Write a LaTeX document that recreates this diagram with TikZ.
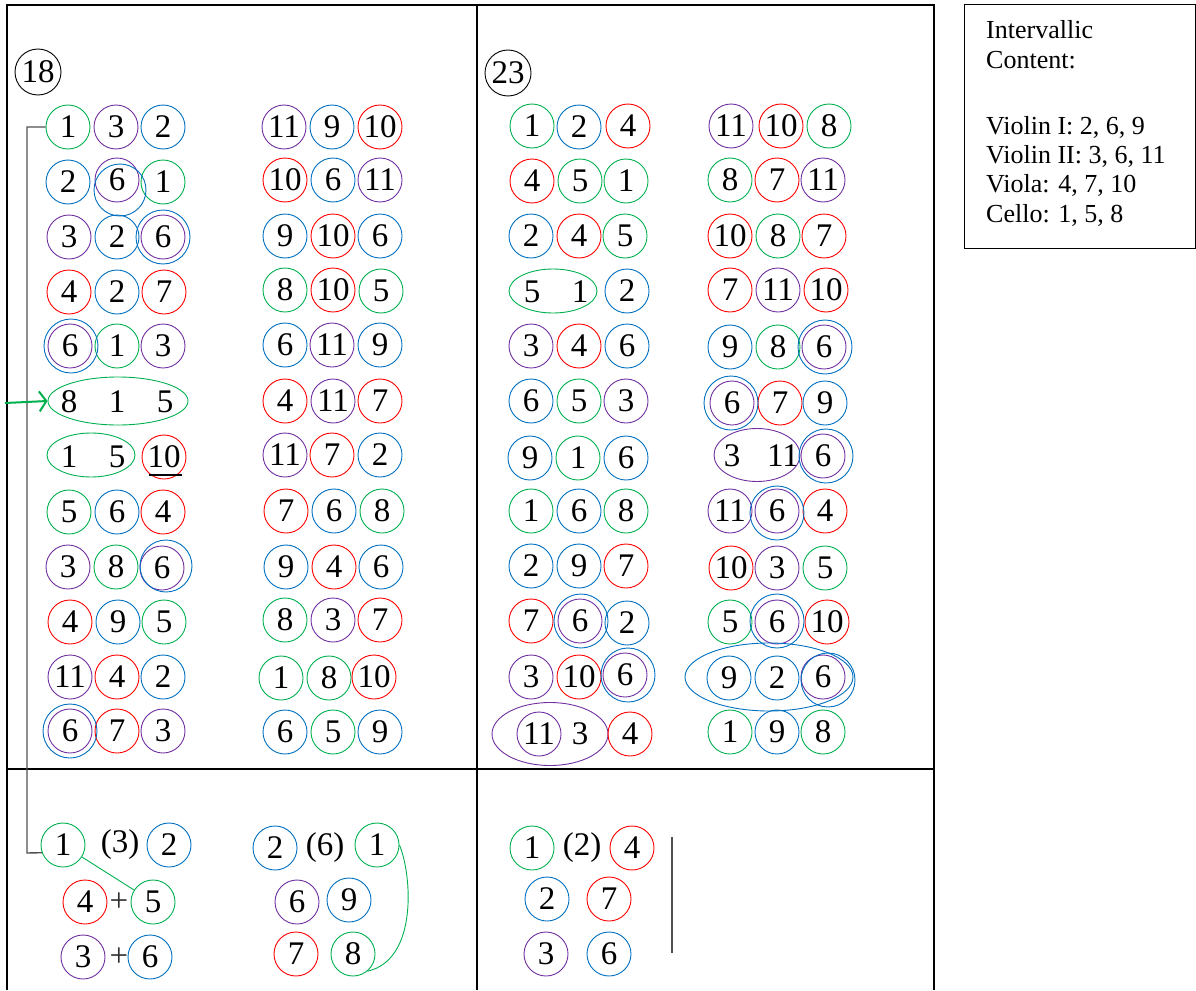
\documentclass[tikz,border=0pt]{standalone}
\usepackage{fontspec}
\setmainfont{Liberation Serif}
\usetikzlibrary{shapes.geometric,arrows.meta}
\definecolor{cgreen}{HTML}{00B050}
\definecolor{cpurple}{HTML}{7030A0}
\definecolor{cblue}{HTML}{0070C0}
\definecolor{cred}{HTML}{FF0000}
\definecolor{lgray}{HTML}{505050}
\definecolor{dgray}{HTML}{303030}
\newcommand\Cn[5]{\node[#1] (#2) at (#3,#4) {#5};}
\begin{document}
\begin{tikzpicture}[x=1pt,y=-1pt,
  base/.style={circle,minimum size=44pt,inner sep=0pt,line width=0.9pt,font=\fontsize{33}{36}\selectfont},
  G/.style={base,draw=cgreen},
  P/.style={base,draw=cpurple},
  B/.style={base,draw=cblue},
  R/.style={base,draw=cred},
  K/.style={base,draw=black},
  D/.style={base},
  outer/.style={circle,draw=cblue,line width=0.9pt,inner sep=0pt,minimum size=#1},
  outer/.default=54pt,
  ov/.style={ellipse,inner sep=0pt,line width=0.9pt},
  frame/.style={line width=1.6pt},
  linegray/.style={draw=lgray,line width=1.4pt},
  leg/.style={anchor=base west,inner sep=0pt,font=\fontsize{26}{29.5}\selectfont},
]
\useasboundingbox (0,0) rectangle (1196,990);
% frame
\draw[frame] (7,990) -- (7,5) -- (934,5) -- (934,990);
\draw[frame] (477,5) -- (477,990);
\draw[frame] (7,769) -- (934,769);
% legend
\node[draw,line width=1.3pt,minimum width=231pt,minimum height=244pt,anchor=north west,inner sep=0pt] (legend) at (964,4) {};
\node[leg] (lg1) at (986,38.5) {Intervallic};
\node[leg] (lg2) at (986,69) {Content:};
\node[leg] (lg3) at (986,134) {Violin I: 2, 6, 9};
\node[leg] (lg4) at (986,163) {Violin II: 3, 6, 11};
\node[leg] (lg5) at (986,192.5) {Viola: 4, 7, 10};
\node[leg] (lg6) at (986,222) {Cello: 1, 5, 8};
\begin{scope}[yshift=-3pt]
% labels
\Cn{K,minimum size=46pt}{L18}{38}{69}{18}
\Cn{K,minimum size=46pt}{L23}{508}{70}{23}
% ===== group A =====
\Cn{G}{A1a}{68}{124}{1} \Cn{P}{A1b}{116}{124}{3} \Cn{B}{A1c}{163}{124}{2}
\Cn{B}{A2a}{68}{179}{2} \Cn{P}{A2b}{117}{177}{6} \Cn{G}{A2c}{163}{179}{1}
\node[outer=52pt] (A2bo) at (120,187) {};
\Cn{P}{A3a}{69}{234}{3} \Cn{B}{A3b}{117}{234}{2} \Cn{P}{A3c}{163}{234}{6}
\node[outer] (A3co) at (163,234) {};
\Cn{R}{A4a}{69}{289}{4} \Cn{B}{A4b}{117}{289}{2} \Cn{R}{A4c}{164}{289}{7}
\Cn{P}{A5a}{70}{343}{6} \Cn{G}{A5b}{117}{343}{1} \Cn{P}{A5c}{163}{343}{3}
\node[outer] (A5ao) at (71,343) {};
\Cn{D}{A6a}{69}{399}{8} \Cn{D}{A6b}{117}{399}{1} \Cn{D}{A6c}{165}{399}{5}
\node[ov,draw=cgreen,minimum width=140pt,minimum height=48pt] (e6) at (118,398) {};
\Cn{D}{A7a}{69}{454}{1} \Cn{D}{A7b}{117}{454}{5}
\node[ov,draw=cgreen,minimum width=88pt,minimum height=44pt] (e7) at (91,452) {};
\Cn{R}{A7c}{164}{454}{10}
\draw[line width=1.2pt] ([shift={(-15,18)}]A7c.center) -- ([shift={(18,18)}]A7c.center);
\Cn{G}{A8a}{69}{509}{5} \Cn{B}{A8b}{117}{509}{6} \Cn{R}{A8c}{163}{509}{4}
\Cn{P}{A9a}{68}{564}{3} \Cn{G}{A9b}{116}{564}{8} \Cn{P}{A9c}{162}{565}{6}
\node[outer=52pt] (A9co) at (166,563) {};
\Cn{R}{A10a}{70}{619}{4} \Cn{B}{A10b}{118}{619}{9} \Cn{G}{A10c}{164}{619}{5}
\Cn{P}{A11a}{70}{674}{11} \Cn{R}{A11b}{117}{674}{4} \Cn{B}{A11c}{163}{674}{2}
\Cn{P}{A12a}{70}{728}{6} \Cn{R}{A12b}{117}{728}{7} \Cn{P}{A12c}{163}{728}{3}
\node[outer] (A12ao) at (70,728) {};
% ===== group B =====
\Cn{P}{B1a}{284}{124}{11} \Cn{B}{B1b}{332}{124}{9} \Cn{R}{B1c}{380}{124}{10}
\Cn{R}{B2a}{285}{177}{10} \Cn{B}{B2b}{333}{177}{6} \Cn{P}{B2c}{380}{177}{11}
\Cn{B}{B3a}{285}{233}{9} \Cn{R}{B3b}{333}{233}{10} \Cn{B}{B3c}{380}{233}{6}
\Cn{G}{B4a}{285}{287}{8} \Cn{R}{B4b}{333}{287}{10} \Cn{G}{B4c}{381}{288}{5}
\Cn{B}{B5a}{285}{342}{6} \Cn{P}{B5b}{332}{342}{11} \Cn{B}{B5c}{380}{342}{9}
\Cn{R}{B6a}{285}{398}{4} \Cn{P}{B6b}{333}{398}{11} \Cn{R}{B6c}{380}{398}{7}
\Cn{P}{B7a}{285}{452}{11} \Cn{R}{B7b}{332}{452}{7} \Cn{B}{B7c}{380}{452}{2}
\Cn{R}{B8a}{286}{508}{7} \Cn{B}{B8b}{334}{508}{6} \Cn{G}{B8c}{382}{508}{8}
\Cn{B}{B9a}{286}{564}{9} \Cn{R}{B9b}{334}{564}{4} \Cn{B}{B9c}{381}{564}{6}
\Cn{G}{B10a}{285}{617}{8} \Cn{P}{B10b}{333}{617}{3} \Cn{R}{B10c}{380}{617}{7}
\Cn{G}{B11a}{281}{675}{1} \Cn{G}{B11b}{329}{675}{8} \Cn{R}{B11c}{374}{674}{10}
\Cn{B}{B12a}{285}{729}{6} \Cn{G}{B12b}{333}{729}{5} \Cn{B}{B12c}{380}{729}{9}
% ===== group C =====
\Cn{G}{C1a}{532}{123}{1} \Cn{B}{C1b}{579}{124}{2} \Cn{R}{C1c}{628}{123}{4}
\Cn{R}{C2a}{532}{178}{4} \Cn{G}{C2b}{580}{178}{5} \Cn{G}{C2c}{626}{178}{1}
\Cn{B}{C3a}{531}{233}{2} \Cn{R}{C3b}{579}{233}{4} \Cn{G}{C3c}{625}{233}{5}
\Cn{D}{C4a}{532}{289}{5} \Cn{D}{C4b}{580}{289}{1}
\node[ov,draw=cgreen,minimum width=88pt,minimum height=44pt] (e4) at (553,288) {};
\Cn{B}{C4c}{627}{288}{2}
\Cn{P}{C5a}{531}{343}{3} \Cn{R}{C5b}{579}{343}{4} \Cn{B}{C5c}{627}{343}{6}
\Cn{B}{C6a}{531}{398}{6} \Cn{G}{C6b}{579}{398}{5} \Cn{P}{C6c}{626}{398}{3}
\Cn{B}{C7a}{530}{455}{9} \Cn{G}{C7b}{578}{455}{1} \Cn{B}{C7c}{626}{455}{6}
\Cn{G}{C8a}{531}{508}{1} \Cn{B}{C8b}{579}{508}{6} \Cn{G}{C8c}{626}{508}{8}
\Cn{B}{C9a}{531}{563}{2} \Cn{B}{C9b}{579}{563}{9} \Cn{R}{C9c}{626}{563}{7}
\Cn{R}{C10a}{531}{618}{7} \Cn{P}{C10b}{580}{618}{6} \Cn{B}{C10c}{627}{620}{2}
\node[outer] (C10bo) at (581,618) {};
\Cn{P}{C11a}{531}{674}{3} \Cn{R}{C11b}{579}{674}{10} \Cn{P}{C11c}{625}{672}{6}
\node[outer] (C11co) at (628,672) {};
\Cn{P}{C12a}{539}{731}{11} \Cn{D}{C12b}{580}{731}{3}
\node[ov,draw=cpurple,minimum width=116pt,minimum height=63pt] (e12) at (550,731) {};
\Cn{R}{C12c}{630}{731}{4}
% ===== group D =====
\Cn{P}{D1a}{731}{123}{11} \Cn{R}{D1b}{781}{123}{10} \Cn{G}{D1c}{829}{123}{8}
\Cn{G}{D2a}{730}{177}{8} \Cn{R}{D2b}{777}{177}{7} \Cn{P}{D2c}{823}{177}{11}
\Cn{R}{D3a}{730}{233}{10} \Cn{G}{D3b}{778}{233}{8} \Cn{R}{D3c}{824}{233}{7}
\Cn{R}{D4a}{730}{287}{7} \Cn{P}{D4b}{778}{287}{11} \Cn{R}{D4c}{826}{287}{10}
\Cn{B}{D5a}{730}{344}{9} \Cn{G}{D5b}{778}{344}{8} \Cn{P}{D5c}{824}{344}{6}
\node[outer] (D5co) at (825,344) {};
\Cn{P}{D6a}{732}{400}{6} \Cn{R}{D6b}{780}{400}{7} \Cn{B}{D6c}{825}{400}{9}
\node[outer] (D6ao) at (731,400) {};
\Cn{D}{D7a}{732}{453}{3} \Cn{D}{D7b}{783}{453}{11}
\node[ov,draw=cpurple,minimum width=86pt,minimum height=53pt] (e7d) at (757,452) {};
\Cn{P}{D7c}{823}{453}{6}
\node[outer] (D7co) at (826,453) {};
\Cn{P}{D8a}{730}{508}{11} \Cn{P}{D8b}{777}{508}{6} \Cn{R}{D8c}{825}{508}{4}
\node[outer] (D8bo) at (777,510) {};
\Cn{R}{D9a}{731}{565}{10} \Cn{P}{D9b}{777}{565}{3} \Cn{G}{D9c}{825}{565}{5}
\Cn{G}{D10a}{730}{619}{5} \Cn{P}{D10b}{777}{619}{6} \Cn{R}{D10c}{827}{619}{10}
\node[outer] (D10bo) at (777,618) {};
\Cn{B}{D11a}{729}{675}{9} \Cn{B}{D11b}{777}{675}{2} \Cn{P}{D11c}{823}{674}{6}
\node[outer] (D11co) at (828,677) {};
\node[ov,draw=cblue,minimum width=168pt,minimum height=68pt] (e11) at (769,674) {};
\Cn{G}{D12a}{730}{729}{1} \Cn{B}{D12b}{777}{729}{9} \Cn{G}{D12c}{823}{729}{8}
% ===== bottom left =====
\Cn{G}{Q1}{63}{842}{1}
\Cn{D}{Q3}{120}{842}{(3)}
\Cn{B}{Q2}{169}{842}{2}
\Cn{R}{Q4}{85}{899}{4}
\Cn{D,text=dgray}{Qp1}{119}{899}{+}
\Cn{G}{Q5}{153}{899}{5}
\Cn{P}{Q6}{83}{954}{3}
\Cn{D,text=dgray}{Qp2}{119}{954}{+}
\Cn{B}{Q7}{150}{954}{6}
\Cn{B}{S2}{275}{845}{2}
\Cn{D}{S3}{325}{845}{(6)}
\Cn{G}{S1}{377}{842}{1}
\Cn{P}{S6}{297}{899}{6}
\Cn{B}{S9}{349}{897}{9}
\Cn{R}{S7}{296}{951}{7}
\Cn{G}{S8}{353}{951}{8}
% ===== bottom right =====
\Cn{G}{T1}{532}{845}{1}
\Cn{D}{T0}{582}{845}{(2)}
\Cn{R}{T4}{632}{845}{4}
\Cn{B}{T2}{547}{896}{2}
\Cn{R}{T7}{609}{896}{7}
\Cn{P}{T3}{546}{951}{3}
\Cn{B}{T6}{609}{951}{6}
\coordinate (vt) at (672,834);
\coordinate (vb) at (672,950);
\draw[linegray] (vt) -- (vb);
% ===== connectors =====
\coordinate (brt) at (27,124);
\coordinate (brb) at (27,850);
\draw[linegray] (A1a.west) -- (brt) -- (brb) -- (Q1.200);
\coordinate (arrs) at (5,400);
\draw[cgreen,line width=2pt,-{Straight Barb[length=7pt,width=20pt]}] (arrs) -- (e6.west);
\draw[cgreen,line width=0.9pt] (Q1) -- (Q5);
\draw[cgreen,line width=0.9pt] (S1.east) .. controls (412,872) and (418,957) .. (S8.310);
\end{scope}
\end{tikzpicture}
\end{document}
